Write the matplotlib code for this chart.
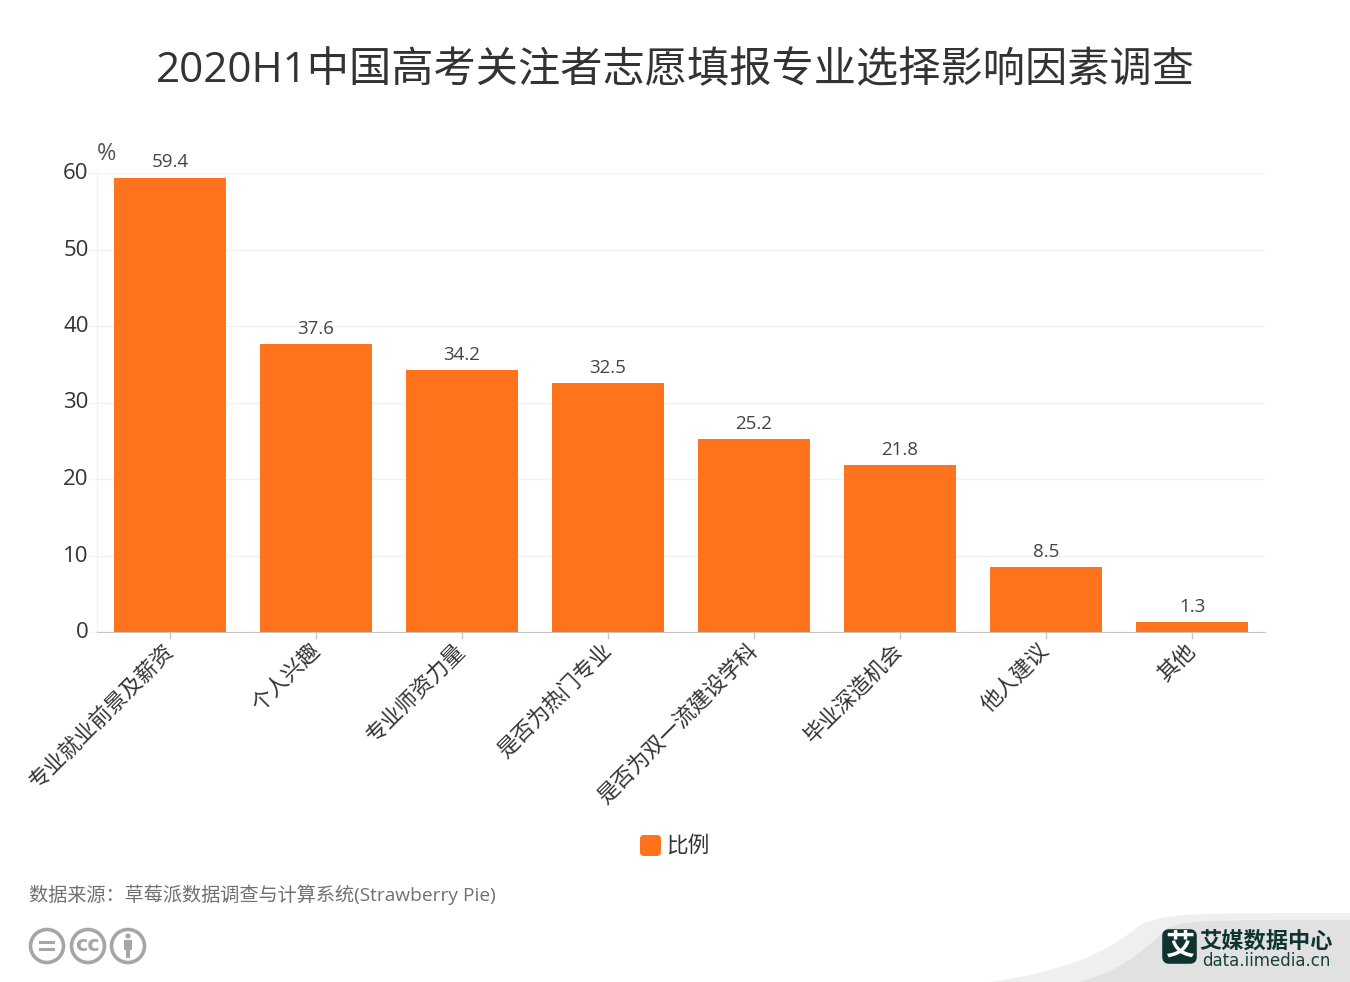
import numpy as np
import matplotlib
matplotlib.use("Agg")
import matplotlib.pyplot as plt
from matplotlib.patches import Circle, FancyBboxPatch, PathPatch, Rectangle
from matplotlib.path import Path
from matplotlib.transforms import ScaledTranslation

plt.rcParams["font.family"] = ["Open Sans", "Noto Sans CJK SC", "DejaVu Sans"]

categories = ["专业就业前景及薪资", "个人兴趣", "专业师资力量", "是否为热门专业",
              "是否为双一流建设学科", "毕业深造机会", "他人建议", "其他"]
values = [59.4, 37.6, 34.2, 32.5, 25.2, 21.8, 8.5, 1.3]
yticks = [0, 10, 20, 30, 40, 50, 60]

W, H = 1350, 982
ORANGE = "#ff731c"
fig = plt.figure(figsize=(W / 100, H / 100), dpi=100, facecolor="white")

# page layer in pixel coordinates, for the swoosh, logo and licence icons
bg = fig.add_axes([0, 0, 1, 1])
bg.set_xlim(0, W)
bg.set_ylim(H, 0)
bg.axis("off")

outer = Path([(990, 982), (1060, 972), (1105, 955), (1140, 925), (1165, 913), (1190, 913), (1350, 913), (1350, 982), (990, 982)],
             [Path.MOVETO, Path.CURVE4, Path.CURVE4, Path.CURVE4, Path.CURVE4, Path.CURVE4, Path.LINETO, Path.LINETO, Path.CLOSEPOLY])
inner = Path([(1080, 982), (1120, 970), (1140, 955), (1165, 930), (1180, 920), (1200, 920), (1350, 920), (1350, 982), (1080, 982)],
             [Path.MOVETO, Path.CURVE4, Path.CURVE4, Path.CURVE4, Path.CURVE4, Path.CURVE4, Path.LINETO, Path.LINETO, Path.CLOSEPOLY])
bg.add_patch(PathPatch(outer, fc="#efefef", ec="none"))
bg.add_patch(PathPatch(inner, fc="#e1e1e1", ec="none"))

# logo
bg.add_patch(FancyBboxPatch((1165, 932), 29, 29, boxstyle="round,pad=0,rounding_size=4", fc="#0e3330", ec="#0e3330", lw=4))
bg.text(1179.5, 946, "艾", color="white", fontsize=21, fontweight="bold", ha="center", va="center", family="Noto Sans CJK SC")
bg.text(1266, 953, "艾媒数据中心", color="#0e3330", fontsize=16, fontweight="bold", ha="center", va="bottom",
        family="Noto Sans CJK SC", linespacing=1)
bg.text(1266, 952.5, "data.iimedia.cn", color="#17403c", fontsize=12, ha="center", va="top",
        family="DejaVu Sans")

# licence icons
GREY = "#a6a6a6"
for cx in [47, 88, 128]:
    bg.add_patch(Circle((cx, 946), 16.5, fc="none", ec=GREY, lw=2.6))
bg.add_patch(Rectangle((39, 941), 16, 3, fc=GREY, ec="none"))
bg.add_patch(Rectangle((39, 948), 16, 3, fc=GREY, ec="none"))
bg.text(88, 945, "cc", color=GREY, fontsize=15, fontweight="bold", ha="center", va="center", family="DejaVu Sans")
bg.add_patch(Circle((128, 936), 2.6, fc=GREY, ec="none"))
bg.add_patch(Rectangle((124, 940), 8, 10, fc=GREY, ec="none"))
bg.add_patch(Rectangle((126, 949), 4, 9, fc=GREY, ec="none"))

# chart
left, right, top, bottom = 97, 1265, 173, 632
ax = fig.add_axes([left / W, 1 - bottom / H, (right - left) / W, (bottom - top) / H])
ax.patch.set_alpha(0)
x = np.arange(len(categories))
bars = ax.bar(x, values, width=0.772, color=ORANGE, zorder=3)
ax.set_xlim(-0.5, len(categories) - 0.5)
ax.set_ylim(0, 60)
ax.set_yticks(yticks)
ax.set_xticks(x)
ax.set_xticklabels(categories, rotation=45, ha="right", va="top", rotation_mode="anchor",
                   fontsize=15.6, color="#333333")
ax.tick_params(axis="x", length=5, width=1, color="#c8c8c8", pad=3)
ax.tick_params(axis="y", length=6, width=1, color="#f2f2f2", labelsize=16, labelcolor="#333333", pad=0)
ax.grid(axis="y", color="#f2f2f2", lw=1, zorder=0)
for s in ["top", "right"]:
    ax.spines[s].set_visible(False)
ax.spines["left"].set_color("#f2f2f2")
ax.spines["bottom"].set_color("#c4c4c4")
ax.spines["bottom"].set_zorder(4)
ax.bar_label(bars, labels=[f"{v:.1f}" for v in values], padding=4.5, fontsize=13.5, color="#444444")

# nudge tick labels to the pixel positions of the original
for lab in ax.get_xticklabels():
    lab.set_transform(lab.get_transform() + ScaledTranslation(-7 / 100, 3 / 100, fig.dpi_scale_trans))
for lab in ax.get_yticklabels():
    lab.set_transform(lab.get_transform() + ScaledTranslation(0, 2 / 100, fig.dpi_scale_trans))

bg.text(107, 154, "%", fontsize=17, color="#555555", ha="center", va="center")

# title, legend, source
fig.text(675 / W, 1 - 71 / H, "2020H1中国高考关注者志愿填报专业选择影响因素调查", fontsize=30.4,
         color="#333333", ha="center", va="center")
bg.add_patch(FancyBboxPatch((640, 835), 21, 21, boxstyle="round,pad=0,rounding_size=4", fc=ORANGE, ec="none"))
bg.text(666, 846, "比例", fontsize=15.6, color="#333333", ha="left", va="center")
bg.text(29, 895, "数据来源：草莓派数据调查与计算系统(Strawberry Pie)", fontsize=13.8, color="#707070",
        ha="left", va="center")

fig.savefig("out.png", dpi=100)
